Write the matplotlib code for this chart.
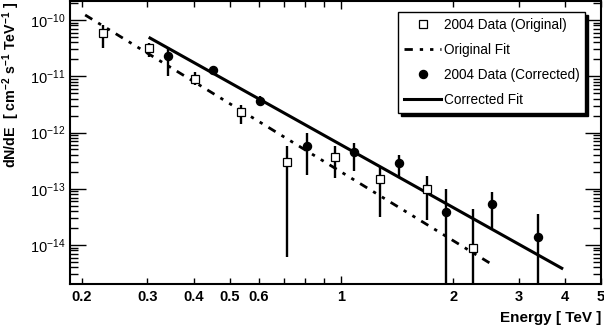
import matplotlib
matplotlib.use("Agg")
import matplotlib.pyplot as plt
import numpy as np
from matplotlib.ticker import FixedLocator, FuncFormatter, LogFormatterMathtext, NullFormatter

plt.rcParams['font.family'] = ['Liberation Sans', 'DejaVu Sans']
plt.rcParams['mathtext.fontset'] = 'custom'
plt.rcParams['mathtext.rm'] = 'Liberation Sans:bold'
plt.rcParams['mathtext.default'] = 'rm'

# 2004 data, original analysis (open squares)
orig_E = [0.228, 0.303, 0.404, 0.537, 0.715, 0.958, 1.27, 1.70, 2.26]
orig_F = [5.9e-11, 3.2e-11, 8.9e-12, 2.31e-12, 2.97e-13, 3.65e-13, 1.48e-13, 9.8e-14, 8.8e-15]
orig_lo = [3.2e-11, 2.2e-11, 7.0e-12, 1.41e-12, 6.1e-15, 1.55e-13, 3.1e-14, 2.76e-14, 1e-16]
orig_hi = [8.1e-11, 3.9e-11, 1.19e-11, 3.08e-12, 5.7e-13, 5.7e-13, 2.52e-13, 1.68e-13, 4.3e-14]

# 2004 data, corrected (filled circles)
corr_E = [0.341, 0.451, 0.604, 0.805, 1.08, 1.43, 1.91, 2.54, 3.38]
corr_F = [2.29e-11, 1.29e-11, 3.62e-12, 5.73e-13, 4.48e-13, 2.86e-13, 3.84e-14, 5.32e-14, 1.38e-14]
corr_lo = [1.01e-11, 1.14e-11, 2.95e-12, 1.75e-13, 2.06e-13, 1.62e-13, 1e-16, 1.99e-14, 1e-16]
corr_hi = [3.3e-11, 1.46e-11, 4.45e-12, 9.76e-13, 6.5e-13, 3.98e-13, 9.8e-14, 8.7e-14, 3.53e-14]

# power-law fits, end points
orig_fit_E = [0.204, 2.59]
orig_fit_F = [1.23e-10, 4.2e-15]
corr_fit_E = [0.305, 3.92]
corr_fit_F = [4.79e-11, 3.87e-15]

labelled_ticks = [0.2, 0.3, 0.4, 0.5, 0.6, 2, 3, 4, 5]
unlabelled_ticks = [0.7, 0.8, 0.9]
y_decades = [1e-14, 1e-13, 1e-12, 1e-11, 1e-10]

W, H = 604, 327
fig = plt.figure(figsize=(W / 100, H / 100), dpi=100)
ax = fig.add_axes([70 / W, 1 - 284 / H, (601 - 70) / W, (284 - 1) / H])

orig_F = np.array(orig_F)
corr_F = np.array(corr_F)
orig_err = [orig_F - np.array(orig_lo), np.array(orig_hi) - orig_F]
corr_err = [corr_F - np.array(corr_lo), np.array(corr_hi) - corr_F]

ax.plot(orig_fit_E, orig_fit_F, color='black', lw=2.0,
        linestyle=(0, (3.0, 2.5, 1.2, 2.5, 1.2, 2.5)), label='Original Fit', zorder=2)
ax.plot(corr_fit_E, corr_fit_F, color='black', lw=2.2, label='Corrected Fit', zorder=2)

ax.errorbar(orig_E, orig_F, yerr=orig_err, fmt='none', ecolor='black', elinewidth=1.7,
            capsize=0, zorder=3)
ax.plot(orig_E, orig_F, 's', ms=6.2, mfc='white', mec='black', mew=0.9,
        label='2004 Data (Original)', zorder=4)
ax.errorbar(corr_E, corr_F, yerr=corr_err, fmt='none', ecolor='black', elinewidth=1.7,
            capsize=0, zorder=3)
ax.plot(corr_E, corr_F, 'o', ms=5.8, color='black',
        label='2004 Data (Corrected)', zorder=4)

ax.set_xscale('log')
ax.set_yscale('log')
ax.set_xlim(0.1857, 5.0)
ax.set_ylim(2.03e-15, 2.18e-10)

ax.xaxis.set_major_locator(FixedLocator([1]))
ax.xaxis.set_major_formatter(FuncFormatter(lambda v, p: '1'))
ax.xaxis.set_minor_locator(FixedLocator(labelled_ticks + unlabelled_ticks))
ax.xaxis.set_minor_formatter(FuncFormatter(
    lambda v, p: ('%g' % v) if any(abs(v - t) < 1e-6 for t in labelled_ticks) else ''))

minor_y = [m * d for d in [1e-15] + y_decades for m in range(2, 10)]
ax.yaxis.set_major_locator(FixedLocator(y_decades))
ax.yaxis.set_major_formatter(LogFormatterMathtext())
ax.yaxis.set_minor_locator(FixedLocator(minor_y))
ax.yaxis.set_minor_formatter(NullFormatter())

for s in ax.spines.values():
    s.set_linewidth(1.5)

ax.tick_params(which='both', direction='in', top=True, right=True, width=1.0)
ax.tick_params(axis='x', which='major', length=6, pad=4, labelsize=10.5)
ax.tick_params(axis='x', which='minor', length=4, pad=4, labelsize=10.5)
ax.tick_params(axis='y', which='major', length=11.5, pad=3.5, labelsize=10.5)
ax.tick_params(axis='y', which='minor', length=5.5)
for lbl in ax.get_xticklabels(which='both'):
    lbl.set_fontweight('bold')

fig.text(11 / W, 1 - 2 / H, r'dN/dE  [ cm$^{-2}$ s$^{-1}$ TeV$^{-1}$ ]', rotation=90,
         ha='center', va='top', fontsize=10.3, fontweight='bold')
fig.text(601 / W, 1 - 322 / H, 'Energy [ TeV ]', ha='right', va='baseline',
         fontsize=11, fontweight='bold')

handles, labels = ax.get_legend_handles_labels()
order = [2, 0, 3, 1]
leg = ax.legend([handles[i] for i in order], [labels[i] for i in order],
                loc='upper left', bbox_to_anchor=(398 / W, 1 - 12 / H),
                bbox_transform=fig.transFigure, fancybox=False, framealpha=1,
                edgecolor='black', fontsize=9.8, handlelength=2.7, handletextpad=0.2,
                labelspacing=0.8, borderpad=0.45, borderaxespad=0,
                shadow={'color': 'black', 'alpha': 1})
leg.get_frame().set_linewidth(1.0)

fig.savefig('out.png', dpi=100)
